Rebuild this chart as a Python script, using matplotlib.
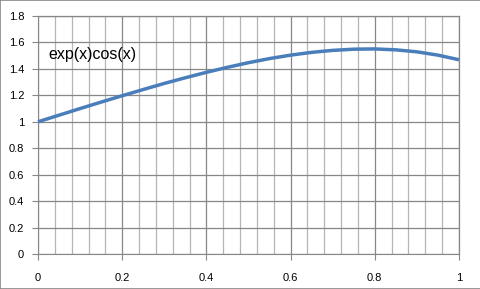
import matplotlib
matplotlib.use("Agg")
import matplotlib.pyplot as plt
from matplotlib.patches import Rectangle
from matplotlib.ticker import MultipleLocator

# values
x_vals = [0.0, 0.05, 0.1, 0.15, 0.2, 0.25, 0.3, 0.35, 0.4, 0.45, 0.5,
          0.55, 0.6, 0.65, 0.7, 0.75, 0.8, 0.85, 0.9, 0.95, 1.0]
y_vals = [1.000, 1.050, 1.100, 1.149, 1.197, 1.244, 1.290, 1.333, 1.374, 1.412, 1.447,
          1.478, 1.504, 1.525, 1.540, 1.549, 1.551, 1.544, 1.529, 1.504, 1.469]
x_ticks = [0, 0.2, 0.4, 0.6, 0.8, 1]
x_labels = ["0", "0.2", "0.4", "0.6", "0.8", "1"]
y_ticks = [0, 0.2, 0.4, 0.6, 0.8, 1, 1.2, 1.4, 1.6, 1.8]
y_labels = ["0", "0.2", "0.4", "0.6", "0.8", "1", "1.2", "1.4", "1.6", "1.8"]
series_name = "exp(x)cos(x)"

plt.rcParams['font.family'] = ['Liberation Sans', 'DejaVu Sans']

fig = plt.figure(figsize=(4.81, 2.89), dpi=100)
ax = fig.add_axes([38 / 481, 1 - 254 / 289, 421 / 481, 238 / 289])

ax.plot(x_vals, y_vals, color="#4a7ebb", linewidth=2.5, solid_capstyle="butt",
        zorder=3, clip_on=False)

ax.set_xlim(0, 1)
ax.set_ylim(0, 1.8)
ax.set_xticks(x_ticks)
ax.set_xticklabels(x_labels)
ax.set_yticks(y_ticks)
ax.set_yticklabels(y_labels)
ax.xaxis.set_minor_locator(MultipleLocator(0.04))

ax.grid(which="major", axis="both", color="#878787", linewidth=0.9)
ax.grid(which="minor", axis="x", color="#b5b5b5", linewidth=0.9)
ax.set_axisbelow(True)

for side in ["top", "right"]:
    ax.spines[side].set_color("#878787")
    ax.spines[side].set_linewidth(0.9)
ax.spines["left"].set_color("#878787")
ax.spines["bottom"].set_color("#878787")

ax.tick_params(which="major", direction="out", length=4, color="#878787",
               labelsize=8, labelcolor="black", pad=10)
ax.tick_params(axis="y", pad=6)
ax.tick_params(which="minor", length=0)

ax.text(0.024, 1.51, series_name, fontsize=11.5, va="center", ha="left")

fig.patches.append(Rectangle((0, 0), 1, 1, transform=fig.transFigure,
                             fill=False, edgecolor="#868686", linewidth=1.2))

fig.savefig("out.png", dpi=100)
